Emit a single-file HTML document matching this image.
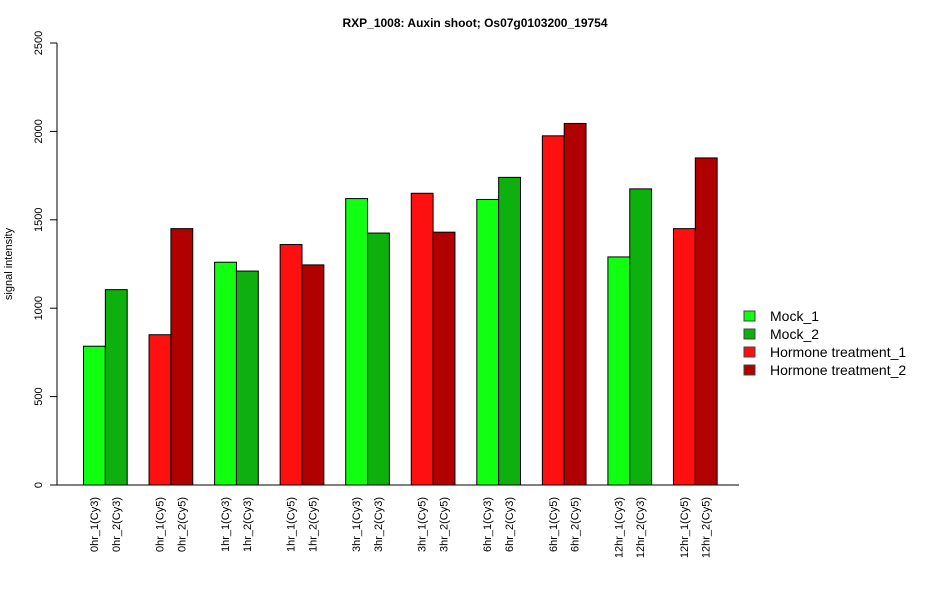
<!DOCTYPE html>
<html><head><meta charset="utf-8"><style>
body{margin:0;background:#fff;}
svg text{font-family:"Liberation Sans",Arial,sans-serif;fill:#000;}
</style></head><body>
<svg id="chart" width="950" height="600" xmlns="http://www.w3.org/2000/svg">
<text x="475" y="27" text-anchor="middle" font-size="12" font-weight="bold">RXP_1008: Auxin shoot; Os07g0103200_19754</text>
<text transform="translate(12,264) rotate(-90)" text-anchor="middle" font-size="11">signal intensity</text>
<g id="yaxis"></g>
<g id="bars"></g>
<g id="xlabels"></g>
<line x1="57" y1="485" x2="739" y2="485" stroke="#000" stroke-width="1"/>
<g id="legend"></g>
</svg>
<script>
const categories=["0hr_1(Cy3)","0hr_2(Cy3)","0hr_1(Cy5)","0hr_2(Cy5)","1hr_1(Cy3)","1hr_2(Cy3)","1hr_1(Cy5)","1hr_2(Cy5)","3hr_1(Cy3)","3hr_2(Cy3)","3hr_1(Cy5)","3hr_2(Cy5)","6hr_1(Cy3)","6hr_2(Cy3)","6hr_1(Cy5)","6hr_2(Cy5)","12hr_1(Cy3)","12hr_2(Cy3)","12hr_1(Cy5)","12hr_2(Cy5)"];
const values=[785,1105,850,1450,1260,1210,1360,1245,1620,1425,1650,1430,1615,1740,1975,2045,1290,1675,1450,1850];
const seriesIdx=[0,1,2,3,0,1,2,3,0,1,2,3,0,1,2,3,0,1,2,3];
const seriesNames=["Mock_1","Mock_2","Hormone treatment_1","Hormone treatment_2"];
const seriesColors=["#11ff11","#0db00d","#ff1010","#b00000"];
const yTicks=[0,500,1000,1500,2000,2500];
const NS="http://www.w3.org/2000/svg";
const BW=21.85;
const y=v=>485-v*(442/2500);
const xLeft=i=>83+Math.floor(i/2)*3*BW+(i%2)*BW;
function mk(t,a,p){const e=document.createElementNS(NS,t);for(const k in a)e.setAttribute(k,a[k]);p.appendChild(e);return e;}
const ya=document.getElementById('yaxis');
const yl=mk('line',{x1:57,y1:y(0),x2:57,y2:y(2500),stroke:'#000'},ya);


yTicks.forEach(t=>{
 const tk=mk('line',{x1:50,y1:y(t),x2:57,y2:y(t),stroke:'#000'},ya);
 
 
 const tx=mk('text',{transform:`translate(42,${y(t)}) rotate(-90)`,'text-anchor':'middle','font-size':'11'},ya);
 
 
 tx.textContent=t;
});
const bg=document.getElementById('bars'),xg=document.getElementById('xlabels');
values.forEach((v,i)=>{
 const r=mk('rect',{x:xLeft(i)+0.5,y:y(v),width:BW,height:y(0)-y(v),fill:seriesColors[seriesIdx[i]],stroke:'#000','stroke-width':1},bg);
 
 
 const cx=xLeft(i)+BW/2+4;
 const tx=mk('text',{transform:`translate(${cx},497) rotate(-90)`,'text-anchor':'end','font-size':'11'},xg);
 
 
 tx.textContent=categories[i];
});
const lg=document.getElementById('legend');
seriesNames.forEach((n,i)=>{
 const yy=316+i*18;
 const r=mk('rect',{x:744,y:yy-5,width:11,height:10,fill:seriesColors[i],stroke:'#444'},lg);
 
 
 const t=mk('text',{x:770,y:yy+5,'font-size':'14'},lg);
 
 
 t.textContent=n;
});
</script>
</body></html>
